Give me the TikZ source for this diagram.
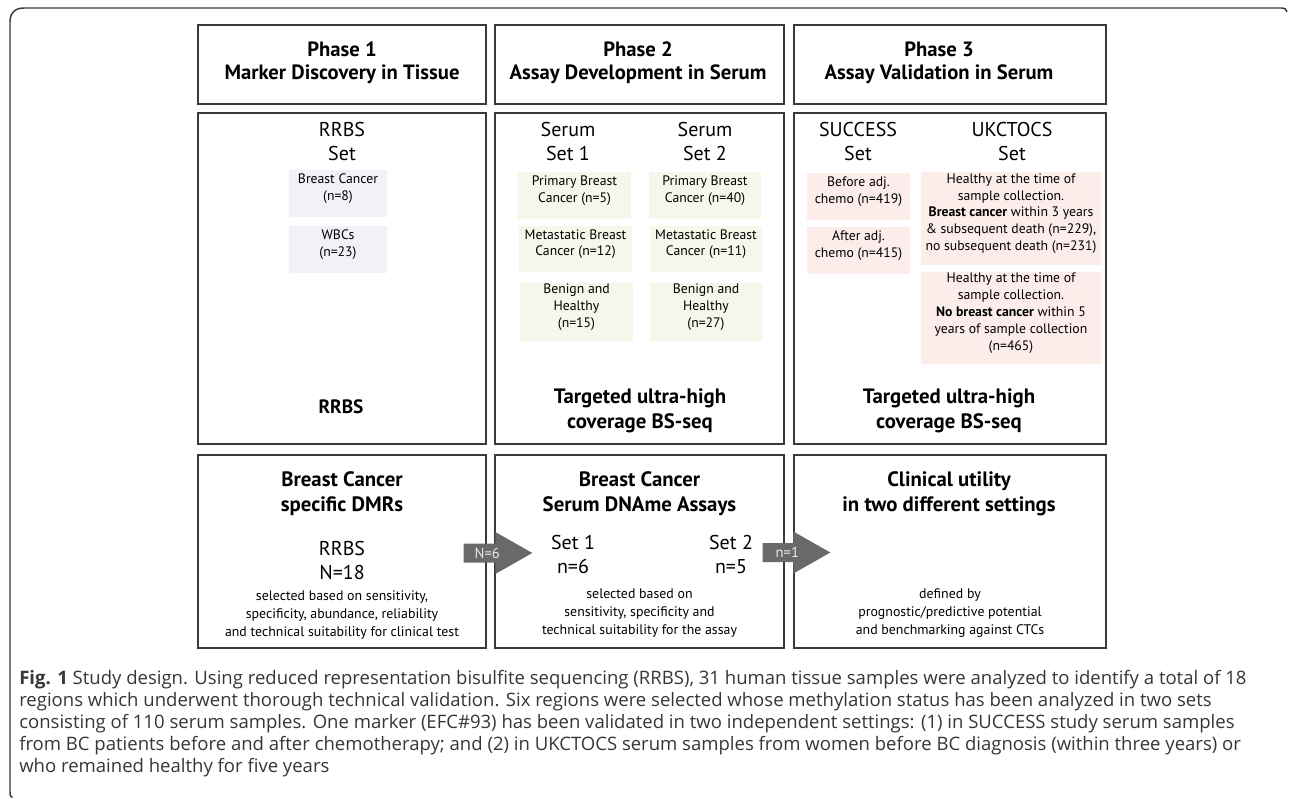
\documentclass[tikz,border=0pt]{standalone}
\usepackage{fontspec}
\setmainfont{PT Sans}
\newfontfamily\capfont{Open Sans}
\usetikzlibrary{fit,calc}
\definecolor{bord}{HTML}{3A3A3A}
\definecolor{lav}{HTML}{F1F2F8}
\definecolor{grn}{HTML}{F3F8EA}
\definecolor{pnk}{HTML}{FCEDEB}
\definecolor{arr}{HTML}{6B6968}
\definecolor{captxt}{HTML}{363636}
\tikzset{
  panel/.style={draw=bord,line width=1pt,inner sep=0pt},
  hdr/.style={font=\fontsize{15.5}{17.25}\selectfont\bfseries,align=center,inner sep=0pt},
  methlbl/.style={font=\fontsize{14.5}{17.25}\selectfont\bfseries,align=center,inner sep=0pt},
  bighdr/.style={font=\fontsize{15.6}{18.75}\selectfont\bfseries,align=center,inner sep=0pt},
  setlbl/.style={font=\fontsize{15}{18}\selectfont,align=center,inner sep=0pt},
  smallbox/.style={inner sep=0pt,align=center,font=\fontsize{10.3}{12.6}\selectfont},
  lavbox/.style={smallbox,fill=lav},
  grnbox/.style={smallbox,fill=grn},
  pnkbox/.style={smallbox,fill=pnk},
  note/.style={font=\fontsize{10.4}{13.3}\selectfont,align=center,inner sep=0pt},
  arrlbl/.style={font=\fontsize{11}{13}\selectfont,text=white!85!arr,inner sep=0pt},
  capline/.style={anchor=base west,inner sep=0pt,font=\capfont\fontsize{13.9}{16.5}\selectfont,text=captxt},
  frame/.style={draw=bord,line width=1.1pt},
}
\begin{document}
\begin{tikzpicture}[x=0.75pt,y=-0.75pt]
\useasboundingbox (0,0) rectangle (1290,799);
% outer frame
\draw[frame] (12.5,797.5) .. controls (10,797) and (10,795) .. (10,792) -- (10,22)
  .. controls (10,13) and (15,8) .. (24,8) -- (1282,8) .. controls (1285,8) and (1286,9) .. (1287,12);
% header boxes
\node[panel, fit={(198,25)(486,104)}] (h1) {};
\node[panel, fit={(495,25)(784,104)}] (h2) {};
\node[panel, fit={(794,25)(1106,104)}] (h3) {};
\node[hdr] (h1t) at (342,63) {Phase 1\\Marker Discovery in Tissue};
\node[hdr] (h2t) at (638,63) {Phase 2\\Assay Development in Serum};
\node[hdr] (h3t) at (939,63) {Phase 3\\Assay Validation in Serum};
% main boxes
\node[panel, fit={(198,113)(486,444)}] (m1) {};
\node[panel, fit={(495,113)(784,444)}] (m2) {};
\node[panel, fit={(794,113)(1106,444)}] (m3) {};
\node[setlbl] (rrbsset) at (342,142) {RRBS\\Set};
\node[setlbl] (ss1) at (568,142) {Serum\\Set 1};
\node[setlbl] (ss2) at (705,142) {Serum\\Set 2};
\node[setlbl] (succ) at (858,142) {SUCCESS\\Set};
\node[setlbl] (ukc) at (1012,142) {UKCTOCS\\Set};
% phase 1 samples
\node[lavbox, fit={(289,170)(387,217)}] (bc) {Breast Cancer\\(n=8)};
\node[lavbox, fit={(289,226)(387,273)}] (wbc) {WBCs\\(n=23)};
% phase 2 samples
\node[grnbox, fit={(518,172)(631,219)}] (p1) {Primary Breast\\Cancer (n=5)};
\node[grnbox, fit={(519,226)(632,272)}] (mt1) {Metastatic Breast\\Cancer (n=12)};
\node[grnbox, fit={(520,283)(633,341)}] (bh1) {Benign and\\Healthy\\(n=15)};
\node[grnbox, fit={(649,172)(761,219)}] (p2) {Primary Breast\\Cancer (n=40)};
\node[grnbox, fit={(650,226)(762,272)}] (mt2) {Metastatic Breast\\Cancer (n=11)};
\node[grnbox, fit={(650,283)(762,341)}] (bh2) {Benign and\\Healthy\\(n=27)};
% phase 3 samples
\node[pnkbox, fit={(807,173)(910,220)}] (bef) {Before adj.\\chemo (n=419)};
\node[pnkbox, fit={(807,227)(910,274)}] (aft) {After adj.\\chemo (n=415)};
\node[pnkbox, fit={(921,172)(1101,265)}] (uk1) {Healthy at the time of\\sample collection.\\\textbf{Breast cancer} within 3 years\\\& subsequent death (n=229),\\no subsequent death (n=231)};
\node[pnkbox, fit={(921,272)(1101,364)}] (uk2) {Healthy at the time of\\sample collection.\\\textbf{No breast cancer} within 5\\years of sample collection\\(n=465)};
% methods
\node[methlbl] (meth1) at (341,407) {RRBS};
\node[bighdr] (meth2) at (640,411) {Targeted ultra-high\\coverage BS-seq};
\node[bighdr] (meth3) at (949,411) {Targeted ultra-high\\coverage BS-seq};
% bottom boxes
\node[panel, fit={(198,455)(486,648)}] (bot1) {};
\node[panel, fit={(495,455)(784,648)}] (bot2) {};
\node[panel, fit={(794,455)(1106,648)}] (bot3) {};
\node[bighdr] (b1h) at (342,494) {Breast Cancer\\specific DMRs};
\node[bighdr] (b2h) at (639.5,494) {Breast Cancer\\Serum DNAme Assays};
\node[bighdr] (b3h) at (949,494) {Clinical utility\\in two different settings};
\node[setlbl] (b1n) at (342,560) {RRBS\\N=18};
\node[setlbl] (b2s1) at (573,554) {Set 1\\n=6};
\node[setlbl] (b2s2) at (731,554) {Set 2\\n=5};
\node[note] (b1note) at (342,615) {selected based on sensitivity,\\specificity, abundance, reliability\\and technical suitability for clinical test};
\node[note] (b2note) at (639.5,613) {selected based on\\sensitivity, specificity and\\technical suitability for the assay};
\node[note] (b3note) at (950,613) {defined by\\prognostic/predictive potential\\and benchmarking against CTCs};
% arrows
\coordinate (a1s) at ($(bot1.east)+(-23,1.5)$);
\coordinate (a1b) at ($(bot2.west)+(1,1.5)$);
\coordinate (a1e) at ($(bot2.west)+(38,1.5)$);
\coordinate (a2s) at ($(bot2.east)+(-22,1)$);
\coordinate (a2b) at ($(bot3.west)+(0,1)$);
\coordinate (a2e) at ($(bot3.west)+(37,1)$);
\fill[arr] ($(a1s)+(0,-9.5)$) -- ($(a1b)+(0,-9.5)$) -- ($(a1b)+(0,-21)$) -- (a1e)
  -- ($(a1b)+(0,21)$) -- ($(a1b)+(0,9.5)$) -- ($(a1s)+(0,9.5)$) -- cycle;
\fill[arr] ($(a2s)+(0,-9.5)$) -- ($(a2b)+(0,-9.5)$) -- ($(a2b)+(0,-21)$) -- (a2e)
  -- ($(a2b)+(0,21)$) -- ($(a2b)+(0,9.5)$) -- ($(a2s)+(0,9.5)$) -- cycle;
\node[arrlbl] (a1l) at ($(a1b)+(-8,0)$) {N=6};
\node[arrlbl] (a2l) at ($(a2b)+(-6,0)$) {n=1};
% caption
\node[capline] (c1) at (19,684) {\textbf{Fig. 1} Study design. Using reduced representation bisulfite sequencing (RRBS), 31 human tissue samples were analyzed to identify a total of 18};
\node[capline] (c2) at (19,706) {regions which underwent thorough technical validation. Six regions were selected whose methylation status has been analyzed in two sets};
\node[capline] (c3) at (19,728) {consisting of 110 serum samples. One marker (EFC\#93) has been validated in two independent settings: (1) in SUCCESS study serum samples};
\node[capline] (c4) at (19,750) {from BC patients before and after chemotherapy; and (2) in UKCTOCS serum samples from women before BC diagnosis (within three years) or};
\node[capline] (c5) at (19,772) {who remained healthy for five years};
\end{tikzpicture}
\end{document}
